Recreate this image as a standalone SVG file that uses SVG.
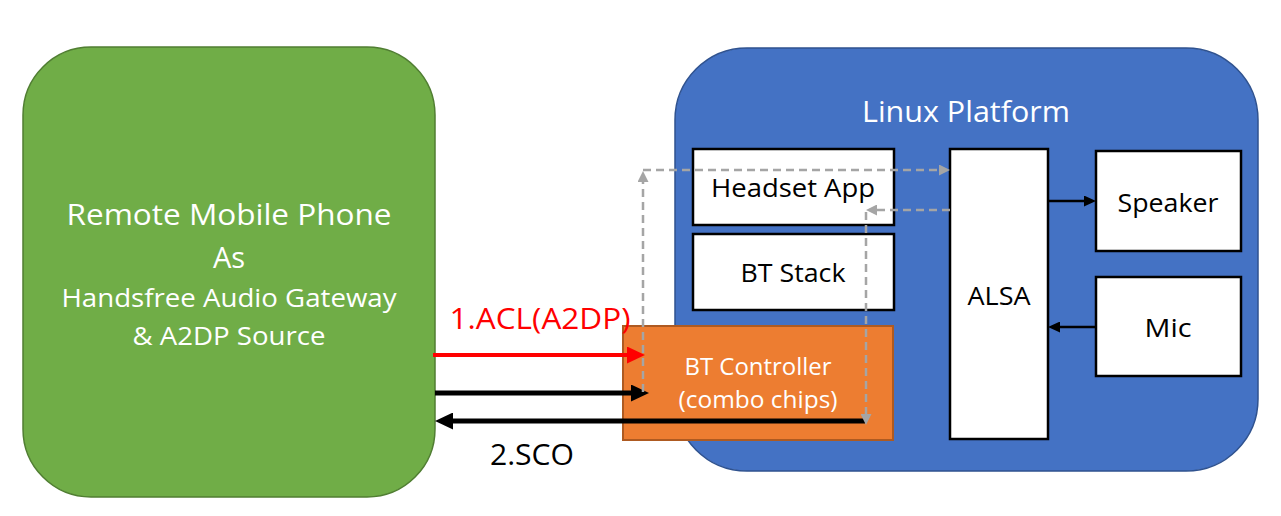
<svg xmlns="http://www.w3.org/2000/svg" width="1281" height="516" viewBox="0 0 1281 516">
<style>
text{font-family:"Open Sans","Noto Sans","DejaVu Sans",sans-serif;}
.wt{fill:#ffffff;}
.bk{fill:#000000;}
.box{fill:#ffffff;stroke:#000000;stroke-width:2.5;}
.dash{fill:none;stroke:#A5A5A5;stroke-width:2.5;stroke-dasharray:8,5;}
.thin{fill:none;stroke:#000000;stroke-width:2.5;}
</style>
<defs>
<marker id="hRed" markerUnits="userSpaceOnUse" markerWidth="18" markerHeight="17" refX="9" refY="8.5" orient="auto"><path d="M0,0 L18,8.5 L0,17 z" fill="#FF0000"/></marker>
<marker id="hBlk" markerUnits="userSpaceOnUse" markerWidth="18" markerHeight="17" refX="9" refY="8.5" orient="auto"><path d="M0,0 L18,8.5 L0,17 z" fill="#000000"/></marker>
<marker id="hGry" markerUnits="userSpaceOnUse" markerWidth="11" markerHeight="11" refX="4" refY="5.5" orient="auto"><path d="M0,0 L11,5.5 L0,11 z" fill="#A5A5A5"/></marker>
<marker id="hSm" markerUnits="userSpaceOnUse" markerWidth="12" markerHeight="11" refX="4" refY="5.5" orient="auto"><path d="M0,0 L12,5.5 L0,11 z" fill="#000000"/></marker>
</defs>

<g id="remote-phone">
<rect x="23" y="47" width="412" height="450" rx="68" ry="68" fill="#70AD47" stroke="#507E32" stroke-width="1.5"/>
<text class="wt" x="229" y="225" font-size="29" text-anchor="middle" textLength="325" lengthAdjust="spacingAndGlyphs">Remote Mobile Phone</text>
<text class="wt" x="229" y="268" font-size="29" text-anchor="middle">As</text>
<text class="wt" x="229" y="307" font-size="25" text-anchor="middle" textLength="335" lengthAdjust="spacingAndGlyphs">Handsfree Audio Gateway</text>
<text class="wt" x="229" y="345" font-size="25" text-anchor="middle" textLength="193" lengthAdjust="spacingAndGlyphs">&amp; A2DP Source</text>
</g>

<g id="linux-platform">
<rect x="675" y="48" width="583" height="423" rx="72" ry="72" fill="#4472C4" stroke="#2F528F" stroke-width="1.5"/>
<text class="wt" x="966" y="122" font-size="29" text-anchor="middle" textLength="208" lengthAdjust="spacingAndGlyphs">Linux Platform</text>
</g>

<g id="headset-app">
<rect class="box" x="693" y="149" width="201" height="76"/>
<text class="bk" x="793" y="197" font-size="26" text-anchor="middle" textLength="164" lengthAdjust="spacingAndGlyphs">Headset App</text>
</g>

<g id="bt-stack">
<rect class="box" x="693" y="234" width="201" height="76"/>
<text class="bk" x="793" y="282" font-size="26" text-anchor="middle" textLength="105" lengthAdjust="spacingAndGlyphs">BT Stack</text>
</g>

<g id="bt-controller">
<rect x="623" y="326" width="270" height="114" fill="#ED7D31" stroke="#AE5A21" stroke-width="2"/>
<text class="wt" x="758" y="375" font-size="23" text-anchor="middle" textLength="147" lengthAdjust="spacingAndGlyphs">BT Controller</text>
<text class="wt" x="758" y="408" font-size="23" text-anchor="middle" textLength="159" lengthAdjust="spacingAndGlyphs">(combo chips)</text>
</g>

<g id="alsa">
<rect class="box" x="950" y="149" width="98" height="290"/>
<text class="bk" x="999" y="305" font-size="26" text-anchor="middle" textLength="63" lengthAdjust="spacingAndGlyphs">ALSA</text>
</g>

<g id="speaker">
<rect class="box" x="1096" y="151" width="145" height="100"/>
<text class="bk" x="1168" y="212" font-size="26" text-anchor="middle" textLength="101" lengthAdjust="spacingAndGlyphs">Speaker</text>
</g>

<g id="mic">
<rect class="box" x="1096" y="277" width="145" height="99"/>
<text class="bk" x="1168" y="337" font-size="26" text-anchor="middle" textLength="47" lengthAdjust="spacingAndGlyphs">Mic</text>
</g>

<g id="connectors">
<line x1="433" y1="355" x2="636" y2="355" stroke="#FF0000" stroke-width="4" marker-end="url(#hRed)"/>
<line x1="435" y1="393" x2="640" y2="393" stroke="#000000" stroke-width="5" marker-end="url(#hBlk)"/>
<line x1="865" y1="421" x2="444" y2="421" stroke="#000000" stroke-width="5" marker-end="url(#hBlk)"/>
<line class="dash" x1="643" y1="392" x2="643" y2="178" marker-end="url(#hGry)"/>
<line class="dash" x1="643" y1="170" x2="943" y2="170" marker-end="url(#hGry)"/>
<line class="dash" x1="950" y1="210" x2="873" y2="210" marker-end="url(#hGry)"/>
<line class="dash" x1="866" y1="212" x2="866" y2="418" marker-end="url(#hGry)"/>
<line class="thin" x1="1048" y1="201" x2="1088" y2="201" marker-end="url(#hSm)"/>
<line class="thin" x1="1096" y1="327" x2="1056" y2="327" marker-end="url(#hSm)"/>
<text x="540" y="329" font-size="29" fill="#FF0000" text-anchor="middle" textLength="181" lengthAdjust="spacingAndGlyphs">1.ACL(A2DP)</text>
<text class="bk" x="532" y="465" font-size="29" text-anchor="middle" textLength="84" lengthAdjust="spacingAndGlyphs">2.SCO</text>
</g>
</svg>
